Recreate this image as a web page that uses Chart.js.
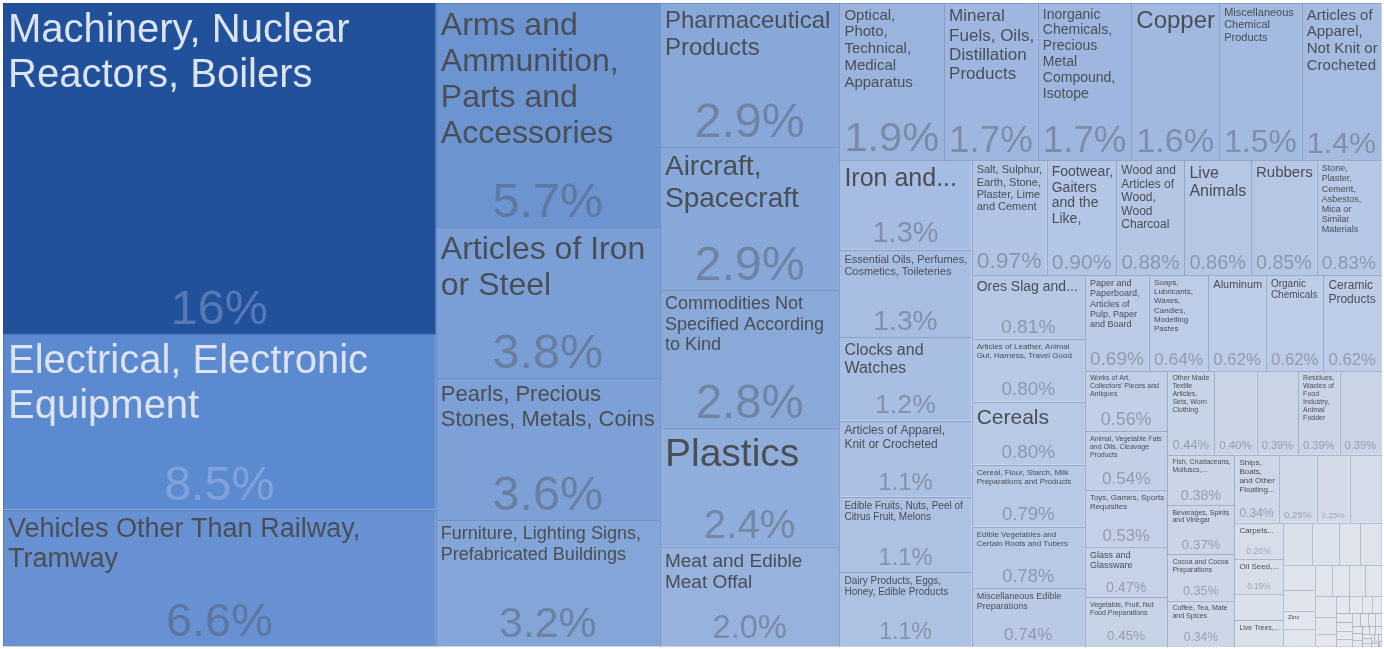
<!DOCTYPE html>
<html>
<head>
<meta charset="utf-8">
<script src="https://cdn.jsdelivr.net/npm/chart.js@4.4.1/dist/chart.umd.min.js"></script>
<style>
  html, body { margin: 0; padding: 0; background: #ffffff; }
  #wrap { width: 1384px; height: 649px; }
</style>
</head>
<body>
<div id="wrap"><canvas id="c" width="1384" height="649"></canvas></div>
<script>
// ---------------- DATA (share of total, %) ----------------
const categories = [
  "Machinery, Nuclear Reactors, Boilers",
  "Electrical, Electronic Equipment",
  "Vehicles Other Than Railway, Tramway",
  "Arms and Ammunition, Parts and Accessories",
  "Articles of Iron or Steel",
  "Pearls, Precious Stones, Metals, Coins",
  "Furniture, Lighting Signs, Prefabricated Buildings",
  "Pharmaceutical Products",
  "Aircraft, Spacecraft",
  "Commodities Not Specified According to Kind",
  "Plastics",
  "Meat and Edible Meat Offal",
  "Optical, Photo, Technical, Medical Apparatus",
  "Mineral Fuels, Oils, Distillation Products",
  "Inorganic Chemicals, Precious Metal Compound, Isotope",
  "Copper",
  "Miscellaneous Chemical Products",
  "Articles of Apparel, Not Knit or Crocheted",
  "Iron and...",
  "Essential Oils, Perfumes, Cosmetics, Toileteries",
  "Clocks and Watches",
  "Articles of Apparel, Knit or Crocheted",
  "Edible Fruits, Nuts, Peel of Citrus Fruit, Melons",
  "Dairy Products, Eggs, Honey, Edible Products",
  "Salt, Sulphur, Earth, Stone, Plaster, Lime and Cement",
  "Footwear, Gaiters and the Like,",
  "Wood and Articles of Wood, Wood Charcoal",
  "Live Animals",
  "Rubbers",
  "Stone, Plaster, Cement, Asbestos, Mica or Similar Materials",
  "Ores Slag and...",
  "Articles of Leather, Animal Gut, Harness, Travel Good",
  "Cereals",
  "Cereal, Flour, Starch, Milk Preparations and Products",
  "Edible Vegetables and Certain Roots and Tubers",
  "Miscellaneous Edible Preparations",
  "Paper and Paperboard, Articles of Pulp, Paper and Board",
  "Soaps, Lubricants, Waxes, Candles, Modelling Pastes",
  "Aluminum",
  "Organic Chemicals",
  "Ceramic Products",
  "Works of Art, Collectors' Pieces and Antiques",
  "Animal, Vegetable Fats and Oils, Cleavage Products",
  "Toys, Games, Sports Requisites",
  "Glass and Glassware",
  "Vegetable, Fruit, Nut Food Preparations",
  "Other Made Textile Articles, Sets, Worn Clothing",
  "",
  "",
  "Residues, Wastes of Food Industry, Animal Fodder",
  "",
  "Fish, Crustaceans, Molluscs,...",
  "Beverages, Spirits and Vinegar",
  "Cocoa and Cocoa Preparations",
  "Coffee, Tea, Mate and Spices",
  "Ships, Boats, and Other Floating...",
  "",
  "",
  "",
  "Carpets...",
  "Oil Seed,...",
  "",
  "Live Trees,...",
  "", "", "", "", "", "",
  "Zinc",
  "", "", "", "", "", "", "", "", "", "", "", "",
  "", "", "", "", "", "", "", "", "", "", "", "",
  "", "", "", "", "", "", "", "", "", "", "", ""
];

const shares = [
  16.1, 8.54, 6.64,
  5.65, 3.80, 3.58, 3.17,
  2.91, 2.88, 2.78, 2.40, 2.00,
  1.85, 1.656, 1.652, 1.552, 1.46, 1.40,
  1.33, 1.30, 1.24, 1.13, 1.12, 1.10,
  0.97, 0.90, 0.88, 0.86, 0.85, 0.83,
  0.81, 0.80, 0.80, 0.79, 0.78, 0.74,
  0.69, 0.64, 0.62, 0.62, 0.62,
  0.56, 0.54, 0.53, 0.47, 0.45,
  0.44, 0.40, 0.39, 0.39, 0.39,
  0.38, 0.37, 0.35, 0.34,
  0.34, 0.29, 0.25, 0.24,
  0.20, 0.19, 0.145, 0.14,
  0.137, 0.128, 0.100, 0.099,
  0.091, 0.072, 0.064, 0.062,
  0.060, 0.059, 0.057, 0.056,
  0.050, 0.040, 0.030,
  0.026, 0.024, 0.020, 0.018,
  0.016, 0.015, 0.014, 0.013, 0.012, 0.011, 0.010, 0.009,
  0.008, 0.008, 0.007, 0.006, 0.005, 0.005, 0.004, 0.004,
  0.003, 0.003, 0.003, 0.002, 0.002, 0.002, 0.001, 0.001
];

// ---------------- STYLE ----------------
const FONT = '"Liberation Sans", Arial, Helvetica, sans-serif';
const colorStops = [
  [0,    [230, 233, 238]],
  [0.1,  [222, 227, 236]],
  [0.25, [211, 219, 233]],
  [0.4,  [201, 212, 231]],
  [0.6,  [191, 206, 231]],
  [1.0,  [176, 195, 228]],
  [1.5,  [162, 185, 225]],
  [2.0,  [151, 178, 221]],
  [2.9,  [135, 168, 216]],
  [3.8,  [122, 159, 214]],
  [5.7,  [107, 148, 208]],
  [6.6,  [104, 145, 211]],
  [8.5,  [91, 138, 209]],
  [16,   [34, 81, 155]]
];
function colorFor(v) {
  const last = colorStops[colorStops.length - 1];
  if (v >= last[0]) return last[1];
  for (let i = 1; i < colorStops.length; i++) {
    if (v <= colorStops[i][0]) {
      const [a, ca] = colorStops[i - 1], [b, cb] = colorStops[i];
      const t = (v - a) / (b - a);
      return ca.map((c, k) => Math.round(c + (cb[k] - c) * t));
    }
  }
  return colorStops[0][1];
}

// d3-style squarified treemap (golden ratio)
function squarify(values, x0, y0, x1, y1) {
  const ratio = (1 + Math.sqrt(5)) / 2;
  const n = values.length;
  const rects = new Array(n);
  let value = values.reduce((a, b) => a + b, 0);
  let i0 = 0, i1 = 0;
  while (i0 < n) {
    const dx = x1 - x0, dy = y1 - y0;
    let sumValue;
    do sumValue = values[i1++]; while (!sumValue && i1 < n);
    let minValue = sumValue, maxValue = sumValue;
    const alpha = Math.max(dy / dx, dx / dy) / (value * ratio);
    let beta = sumValue * sumValue * alpha;
    let minRatio = Math.max(maxValue / beta, beta / minValue);
    for (; i1 < n; ++i1) {
      const nv = values[i1];
      sumValue += nv;
      if (nv < minValue) minValue = nv;
      if (nv > maxValue) maxValue = nv;
      beta = sumValue * sumValue * alpha;
      const newRatio = Math.max(maxValue / beta, beta / minValue);
      if (newRatio > minRatio) { sumValue -= nv; break; }
      minRatio = newRatio;
    }
    if (dx < dy) {
      const ny = value ? y0 + dy * sumValue / value : y1;
      let x = x0; const k = sumValue ? (x1 - x0) / sumValue : 0;
      for (let i = i0; i < i1; i++) { const nx = x + values[i] * k; rects[i] = [x, y0, nx, ny]; x = nx; }
      y0 = ny;
    } else {
      const nx = value ? x0 + dx * sumValue / value : x1;
      let y = y0; const k = sumValue ? (y1 - y0) / sumValue : 0;
      for (let i = i0; i < i1; i++) { const ny = y + values[i] * k; rects[i] = [x0, y, nx, ny]; y = ny; }
      x0 = nx;
    }
    value -= sumValue; i0 = i1;
  }
  return rects;
}

function wrapWords(ctx, text, f, maxW) {
  ctx.font = f + 'px ' + FONT;
  const words = text.split(' ');
  const lines = []; let cur = '';
  for (const w of words) {
    if (ctx.measureText(w).width > maxW) return null;
    const t = cur ? cur + ' ' + w : w;
    if (ctx.measureText(t).width <= maxW) cur = t;
    else { lines.push(cur); cur = w; }
  }
  if (cur) lines.push(cur);
  return lines;
}

// area-based font guess, then shrink until the wrapped text fits
function fitLabel(ctx, text, W, H) {
  if (W <= 2 || H <= 2) return null;
  const FMAX = 40, FMIN = 5;
  ctx.font = FMAX + 'px ' + FONT;
  const ww = text.split(' ').map(w => ctx.measureText(w).width);
  const maxW = Math.max(...ww);
  const sumW = ww.reduce((a, b) => a + b, 0);
  const areaMod = (1.165 + W / H * 0.1) * 1.083;
  const textArea = sumW * FMAX * 1.2 * areaMod;
  const boxArea = W * H;
  let fS = FMAX;
  if (maxW > W || textArea > boxArea) {
    fS = Math.floor(FMAX * Math.min(Math.sqrt(boxArea / textArea), W / maxW));
  }
  fS = Math.min(fS, Math.floor(H * 0.8));
  for (; fS >= FMIN; fS--) {
    const lines = wrapWords(ctx, text, fS, W);
    if (lines && lines.length * 1.2 * fS <= H) return { f: fS, lines };
  }
  return null;
}

const treemapPlugin = {
  id: 'treemapTiles',
  afterDatasetsDraw(chart) {
    const { ctx, chartArea, scales } = chart;
    const xs = scales.x, ys = scales.y;
    const aspect = chartArea.width / chartArea.height;
    const rects = squarify(shares, 0, 0, aspect, 1);
    ctx.save();
    rects.forEach((r, i) => {
      const L = xs.getPixelForValue(r[0] / aspect), R = xs.getPixelForValue(r[2] / aspect);
      const T = ys.getPixelForValue(r[1]), B = ys.getPixelForValue(r[3]);
      const w = R - L, h = B - T;
      const v = shares[i];
      const col = colorFor(v);
      ctx.fillStyle = `rgb(${col[0]},${col[1]},${col[2]})`;
      ctx.fillRect(L, T, w, h);
      ctx.strokeStyle = 'rgba(45,65,105,0.24)';
      ctx.lineWidth = 1;
      ctx.strokeRect(Math.round(L) + 0.5, Math.round(T) + 0.5, Math.round(R) - Math.round(L), Math.round(B) - Math.round(T));

      const lum = 0.299 * col[0] + 0.587 * col[1] + 0.114 * col[2];
      const dark = lum < 136;
      const textCol = dark ? '#dde4f0' : '#4a4e55';

      // share text
      const shareTxt = v.toPrecision(2) + '%';
      ctx.font = '100px ' + FONT;
      const em = ctx.measureText(shareTxt).width / 100;
      let sf = Math.min(48.5, (w - 10) / em, 0.38 * h - 5);
      if (sf < 8 || h < 30) sf = 0;
      if (sf) {
        ctx.font = sf + 'px ' + FONT;
        ctx.fillStyle = textCol;
        ctx.globalAlpha = dark ? 0.28 : 0.4;
        ctx.textAlign = 'center';
        ctx.textBaseline = 'alphabetic';
        ctx.fillText(shareTxt, (L + R) / 2, B - 0.12 * sf - 4);
        ctx.globalAlpha = 1;
      }

      // label text
      const name = categories[i];
      if (name) {
        const shareBox = sf ? sf * 1.25 : (h >= 30 ? Math.min(50, (h - 10) * 0.5) * 0.6 : 0);
        const fit = fitLabel(ctx, name, w - 8, h - shareBox - 10);
        if (fit) {
          ctx.font = fit.f + 'px ' + FONT;
          ctx.fillStyle = textCol;
          ctx.textAlign = 'left';
          ctx.textBaseline = 'alphabetic';
          fit.lines.forEach((ln, k) => {
            ctx.fillText(ln, L + 5, T + 3 + 0.9 * fit.f + k * 1.13 * fit.f);
          });
        }
      }
    });
    ctx.restore();
  }
};

new Chart(document.getElementById('c'), {
  type: 'scatter',
  data: {
    labels: categories,
    datasets: [{
      label: 'Share',
      data: shares.map((s, i) => ({ x: 0, y: 0, v: s, name: categories[i] })),
      pointRadius: 0,
      pointHoverRadius: 0
    }]
  },
  options: {
    responsive: false,
    devicePixelRatio: 1,
    animation: false,
    layout: { padding: { left: 3, top: 3, right: 3, bottom: 3 } },
    plugins: { legend: { display: false }, tooltip: { enabled: false } },
    scales: {
      x: { type: 'linear', min: 0, max: 1, display: false },
      y: { type: 'linear', min: 0, max: 1, reverse: true, display: false }
    }
  },
  plugins: [treemapPlugin]
});
</script>
</body>
</html>
